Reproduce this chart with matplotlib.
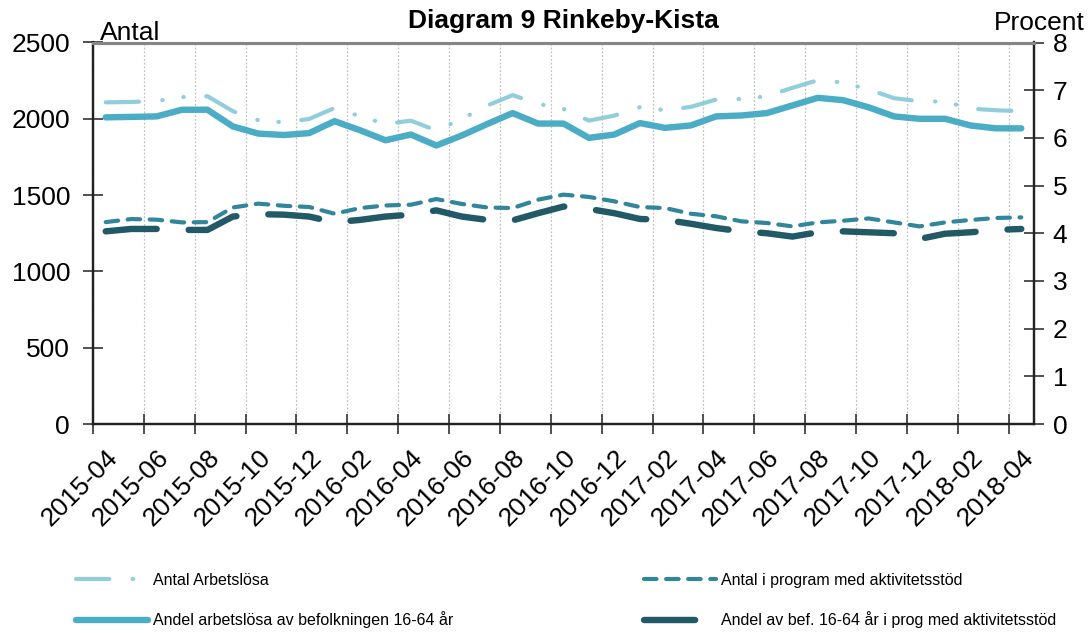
import numpy as np
import matplotlib
matplotlib.use('Agg')
import matplotlib.pyplot as plt

plt.rcParams['font.family'] = ['Liberation Sans', 'DejaVu Sans']

# Monthly data, 2015-04 .. 2018-04
months = ['2015-04', '2015-05', '2015-06', '2015-07', '2015-08', '2015-09', '2015-10',
          '2015-11', '2015-12', '2016-01', '2016-02', '2016-03', '2016-04', '2016-05',
          '2016-06', '2016-07', '2016-08', '2016-09', '2016-10', '2016-11', '2016-12',
          '2017-01', '2017-02', '2017-03', '2017-04', '2017-05', '2017-06', '2017-07',
          '2017-08', '2017-09', '2017-10', '2017-11', '2017-12', '2018-01', '2018-02',
          '2018-03', '2018-04']

# left axis (Antal)
antal_arbetslosa = [2108, 2110, 2117, 2142, 2148, 2050, 1991, 1977, 1999, 2071, 2017, 1966,
                    1988, 1923, 1999, 2087, 2155, 2098, 2065, 1988, 2021, 2076, 2056, 2078,
                    2126, 2130, 2148, 2203, 2253, 2238, 2192, 2135, 2115, 2113, 2067, 2056, 2050]
antal_program = [1323, 1343, 1339, 1321, 1323, 1419, 1444, 1430, 1422, 1378, 1415, 1432,
                 1437, 1474, 1442, 1419, 1415, 1470, 1503, 1488, 1459, 1422, 1415, 1378,
                 1361, 1328, 1317, 1295, 1321, 1332, 1347, 1321, 1295, 1321, 1337, 1350, 1354]

# right axis (Procent)
andel_arbetslosa = [6.43, 6.44, 6.45, 6.59, 6.59, 6.24, 6.09, 6.06, 6.10, 6.35, 6.16, 5.95,
                    6.07, 5.84, 6.05, 6.29, 6.52, 6.30, 6.30, 6.00, 6.07, 6.31, 6.21, 6.26,
                    6.45, 6.47, 6.52, 6.68, 6.84, 6.79, 6.64, 6.45, 6.40, 6.40, 6.26, 6.20, 6.20]
andel_program = [4.04, 4.09, 4.09, 4.07, 4.07, 4.35, 4.40, 4.39, 4.35, 4.23, 4.28, 4.35,
                 4.39, 4.48, 4.35, 4.28, 4.27, 4.42, 4.56, 4.51, 4.42, 4.30, 4.28, 4.20,
                 4.11, 4.04, 4.00, 3.93, 4.02, 4.04, 4.02, 4.00, 3.88, 3.99, 4.02, 4.07, 4.09]

labels = ['Antal Arbetslösa', 'Andel arbetslösa av befolkningen 16-64 år',
          'Antal i program med aktivitetsstöd', 'Andel av bef. 16-64 år i prog med aktivitetsstöd']

c_light = '#92CDDC'
c_mid = '#4BACC6'
c_teal = '#31869B'
c_dark = '#215967'

W, H = 1089, 633
fig = plt.figure(figsize=(W / 100, H / 100), dpi=100)
ax = fig.add_axes([93 / W, 1 - 424 / H, 941 / W, 381.5 / H])
ax2 = ax.twinx()

x = np.arange(len(months))

l1, = ax.plot(x, antal_arbetslosa, color=c_light, lw=3.0, dashes=(8, 5.6, 0.1, 5.0, 0.1, 5.4),
              dash_capstyle='round', solid_capstyle='round')
l3, = ax.plot(x, antal_program, color=c_teal, lw=3.0, dashes=(3, 2.3),
              dash_capstyle='round')
l2, = ax2.plot(x, andel_arbetslosa, color=c_mid, lw=4.6, solid_capstyle='round',
               solid_joinstyle='round')
l4, = ax2.plot(x, andel_program, color=c_dark, lw=4.6, dashes=(8, 5),
               dash_capstyle='round')

ax.set_xlim(-0.5, len(months) - 0.5)
ax.set_ylim(0, 2500)
ax2.set_ylim(0, 8)
ax.set_yticks(range(0, 2501, 500))
ax2.set_yticks(range(0, 9))

# ticks at category boundaries every 2 months, labels at category centres
ax.set_xticks(np.arange(-0.5, len(months) - 1, 2))
ax.set_xticklabels([])
ax.set_xticks(x[::2], minor=True)
ax.set_xticklabels(months[::2], minor=True, rotation=45, ha='right', va='top',
                   rotation_mode='anchor')
ax.tick_params(axis='x', which='major', direction='inout', length=14, width=1.2, color='#333333')
ax.tick_params(axis='x', which='minor', length=0, pad=15, labelsize=19)
ax.grid(axis='x', which='major', color='#C0C0C0', linestyle=(0, (1.5, 1.5)), lw=0.9)

ax.tick_params(axis='y', direction='inout', length=15, width=1.2, labelsize=19, pad=9,
               color='#333333')
ax2.tick_params(axis='y', direction='inout', length=15, width=1.2, labelsize=19, pad=6,
                color='#333333')

for a in (ax, ax2):
    a.spines['top'].set_color('#868686')
    a.spines['top'].set_linewidth(2.2)
    for s in ('left', 'right', 'bottom'):
        a.spines[s].set_color('#222222')
        a.spines[s].set_linewidth(1.6)

fig.text(563 / W, 1 - 21 / H, 'Diagram 9 Rinkeby-Kista', ha='center', va='center',
         fontsize=19, fontweight='bold')
fig.text(100 / W, 1 - 40 / H, 'Antal', ha='left', va='baseline', fontsize=19)
fig.text(994 / W, 1 - 30 / H, 'Procent', ha='left', va='baseline', fontsize=19)

fig.legend([l1, l2, l3, l4], labels, loc='upper left', bbox_to_anchor=(76 / W, 1 - 573 / H),
           ncol=2, frameon=False, fontsize=11.5, handlelength=4.5, handletextpad=0.35,
           columnspacing=11.9, labelspacing=1.45, borderaxespad=0, borderpad=0)

fig.savefig('out.png', dpi=100)
